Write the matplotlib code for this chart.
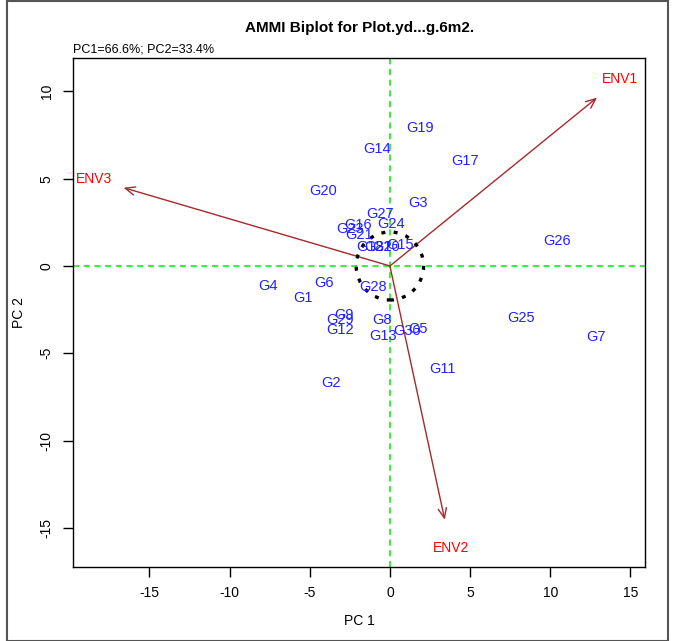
import numpy as np
import matplotlib
matplotlib.use("Agg")
from matplotlib import pyplot as plt
from matplotlib.patches import Ellipse, Rectangle

plt.rcParams['font.family'] = ['Liberation Sans', 'DejaVu Sans']

# genotype scores (PC1, PC2)
gen_names = ['G1', 'G2', 'G3', 'G4', 'G5', 'G6', 'G7', 'G8', 'G9', 'G10',
             'G11', 'G12', 'G13', 'G14', 'G15', 'G16', 'G17', 'G18', 'G19', 'G20',
             'G21', 'G22', 'G23', 'G24', 'G25', 'G26', 'G27', 'G28', 'G29', 'G30']
gen_pc1 = [-5.45, -3.70, 1.75, -7.60, 1.75, -4.10, 12.85, -0.50, -2.85, -0.25,
           3.25, -3.10, -0.45, -0.80, 0.62, -2.00, 4.70, -1.25, 1.90, -4.15,
           -1.90, -0.75, -2.50, 0.05, 8.20, 10.40, -0.62, -1.05, -3.10, 1.05]
gen_pc2 = [-1.83, -6.70, 3.61, -1.15, -3.61, -0.97, -4.07, -3.09, -2.81, 1.09,
           -5.90, -3.67, -4.01, 6.70, 1.20, 2.35, 6.01, 1.09, 7.90, 4.30,
           1.78, 1.09, 2.12, 2.41, -2.98, 1.43, 2.98, -1.20, -3.09, -3.72]

# environment scores
env_names = ['ENV1', 'ENV2', 'ENV3']
env_pc1 = [14.35, 3.80, -18.45]
env_pc2 = [10.71, -16.15, 4.98]

fig = plt.figure(figsize=(6.76, 6.41), dpi=100)
ax = fig.add_axes([0.108, 0.1155, 0.846, 0.794])

ax.set_xlim(-19.76, 15.9)
ax.set_ylim(-17.24, 11.91)

ax.axvline(0, color='#00ee00', linestyle=(0, (4, 3)), linewidth=1.1, zorder=1)
ax.axhline(0, color='#00ee00', linestyle=(0, (4, 3)), linewidth=1.1, zorder=1)

# arrows to 90% of env scores, labels at the scores
for name, x, y in zip(env_names, env_pc1, env_pc2):
    ax.annotate('', xy=(0.9 * x, 0.9 * y), xytext=(0, 0),
                arrowprops=dict(arrowstyle='->,head_length=0.7,head_width=0.3',
                                color='#a52a2a', lw=1.0, shrinkA=0, shrinkB=0),
                zorder=2)
    ax.text(x, y, name, color='#ff0000', fontsize=10, ha='center', va='center', zorder=3)

for name, x, y in zip(gen_names, gen_pc1, gen_pc2):
    ax.text(x, y, name, color='#2222ff', fontsize=10.5, ha='center', va='center', zorder=3)

# dotted circle around origin
ax.add_patch(Ellipse((0, 0), 2 * 2.1, 2 * 1.95, fill=False, edgecolor='black',
                     linestyle=(0, (1.2, 2.5)), linewidth=2.4, zorder=2))

ax.set_xticks([-15, -10, -5, 0, 5, 10, 15])
ax.set_yticks([-15, -10, -5, 0, 5, 10])
ax.set_xticklabels(['-15', '-10', '-5', '0', '5', '10', '15'])
ax.set_yticklabels(['-15', '-10', '-5', '0', '5', '10'], rotation=90, va='center')
ax.tick_params(direction='out', length=7, width=1, labelsize=10, pad=7)
for sp in ax.spines.values():
    sp.set_linewidth(1)

ax.set_xlabel('PC 1', fontsize=10, labelpad=10)
ax.set_ylabel('PC 2', fontsize=10, labelpad=10)

fig.text(0.532, 0.957, 'AMMI Biplot for Plot.yd...g.6m2.', ha='center', va='center',
         fontsize=11, fontweight='bold')
fig.text(0.108, 0.923, 'PC1=66.6%; PC2=33.4%', ha='left', va='center', fontsize=9)

# outer frame of the plot window
fig.add_artist(Rectangle((7 / 676, 0), 661 / 676, 0.998, transform=fig.transFigure,
                         fill=False, edgecolor='#555555', linewidth=1.5))

fig.savefig('out.png', dpi=100)
